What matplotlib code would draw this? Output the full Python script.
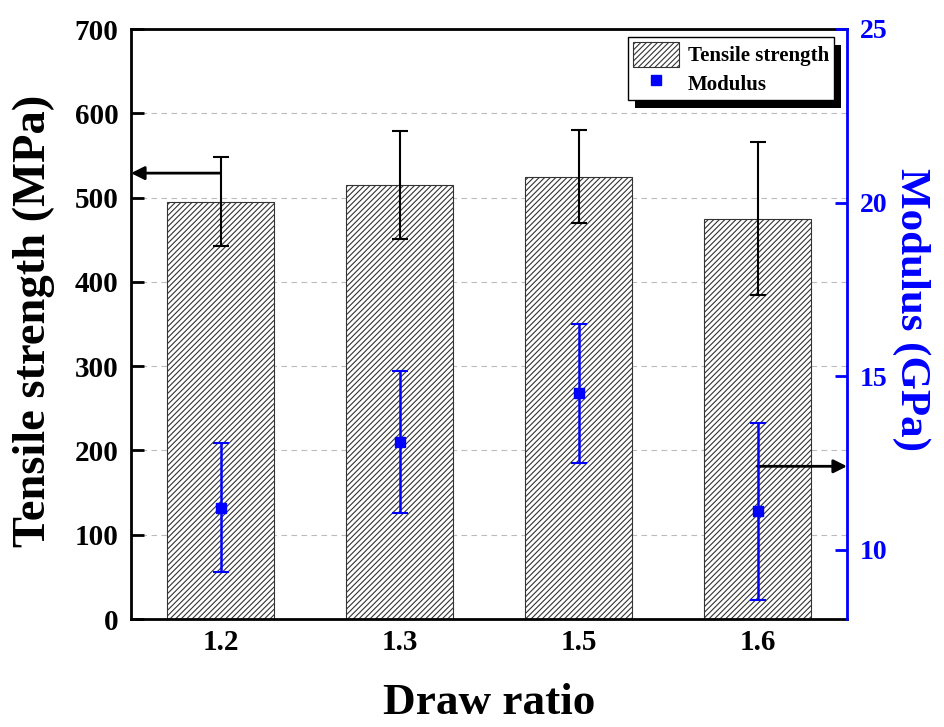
import numpy as np
import matplotlib.pyplot as plt
from matplotlib.patches import Rectangle

# data
draw_ratio = ["1.2", "1.3", "1.5", "1.6"]
tensile = [495, 515, 525, 475]
tensile_err = [53, 64, 55, 91]
modulus = [11.2, 13.1, 14.5, 11.1]
modulus_err = [1.86, 2.05, 2.0, 2.55]

plt.rcParams["font.family"] = "Liberation Serif"
plt.rcParams["font.weight"] = "bold"
plt.rcParams["hatch.linewidth"] = 0.8

fig = plt.figure(figsize=(9.44, 7.27), dpi=100)
ax = fig.add_axes([131 / 944, 1 - 619 / 727, 716 / 944, 590 / 727])
x = np.arange(len(draw_ratio))

bars = ax.bar(x, tensile, width=0.6, color="white", edgecolor="#333333",
              hatch="//////", linewidth=0.8, label="Tensile strength", zorder=2)
ax.errorbar(x, tensile, yerr=tensile_err, fmt="none", ecolor="black",
            elinewidth=1.5, capsize=6, capthick=1.5, zorder=3)

ax.set_xlim(-0.5, 3.5)
ax.set_ylim(0, 700)
ax.set_yticks(range(0, 701, 100))
ax.set_xticks(x)
ax.set_xticklabels(draw_ratio)
ax.yaxis.grid(True, linestyle=(0, (5, 4)), color="#bbbbbb", linewidth=0.8, zorder=0)
ax.set_axisbelow(True)
ax.tick_params(axis="y", direction="in", length=9, width=2, labelsize=21, pad=9)
ax.tick_params(axis="x", direction="in", length=6, width=1.5, labelsize=21, pad=7)
for s in ["left", "bottom", "top"]:
    ax.spines[s].set_linewidth(2)
ax.spines["right"].set_visible(False)
ax.set_ylabel("Tensile strength (MPa)", fontsize=33.5, fontweight="bold")
ax.yaxis.set_label_coords(-0.106, 0.505)
ax.set_xlabel("Draw ratio", fontsize=32.5, fontweight="bold")
ax.xaxis.set_label_coords(0.5, -0.108)

ax2 = ax.twinx()
ax2.set_ylim(8, 25)
ax2.set_yticks([10, 15, 20, 25])
mod = ax2.errorbar(x, modulus, yerr=modulus_err, fmt="s", color="blue",
                   markersize=7, ecolor="blue", elinewidth=1.8, capsize=6,
                   capthick=1.5, label="Modulus", zorder=4)
ax2.spines["right"].set_color("blue")
ax2.spines["right"].set_linewidth(2)
for s in ["left", "bottom", "top"]:
    ax2.spines[s].set_visible(False)
ax2.tick_params(axis="y", direction="in", length=9, width=2, colors="blue",
                labelsize=20, pad=9)
ax2.set_ylabel("Modulus (GPa)", fontsize=31, fontweight="bold", color="blue",
               rotation=270, va="center")
ax2.yaxis.set_label_coords(1.09, 0.525)

# arrows pointing to the axes
ax.annotate("", xy=(-0.5, 529), xytext=(0, 529),
            arrowprops=dict(arrowstyle="-|>", color="black", lw=2, mutation_scale=20,
                            shrinkA=0, shrinkB=0))
ax2.annotate("", xy=(3.5, 12.4), xytext=(3, 12.4),
             arrowprops=dict(arrowstyle="-|>", color="black", lw=2, mutation_scale=20,
                             shrinkA=0, shrinkB=0))

leg = ax2.legend([bars, mod[0]], ["Tensile strength", "Modulus"],
                 loc="upper right", bbox_to_anchor=(0.982, 0.986),
                 fontsize=15, frameon=True, fancybox=False, shadow=False,
                 framealpha=1, borderpad=0.25, handlelength=2.2, handleheight=1.4,
                 handletextpad=0.4, labelspacing=0.2, borderaxespad=0)
leg.get_frame().set_edgecolor("black")
leg.get_frame().set_linewidth(1)
leg.set_zorder(10)
for t in leg.get_texts():
    t.set_fontweight("bold")

# solid black drop shadow behind the legend box
fig.canvas.draw()
bb = leg.get_window_extent().transformed(fig.transFigure.inverted())
shadow = Rectangle((bb.x0 + 7 / 944, bb.y0 - 8 / 727), bb.width, bb.height,
                   facecolor="black", edgecolor="none", zorder=9)
ax2.add_artist(shadow)
shadow.set_transform(fig.transFigure)
shadow.set_clip_on(False)

fig.savefig("out.png", dpi=100)
